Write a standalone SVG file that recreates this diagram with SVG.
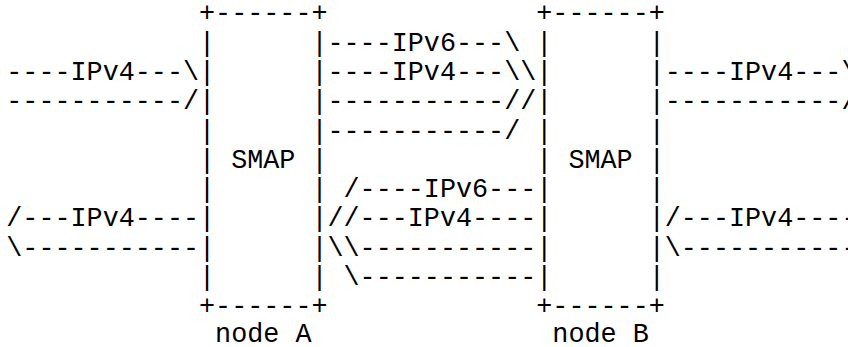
<svg xmlns="http://www.w3.org/2000/svg" width="848" height="347" viewBox="0 0 848 347">
<style>
.t{font-family:"Liberation Mono","Courier New",monospace;font-size:26.77px;fill:#000}
</style>
<rect width="848" height="347" fill="#fff"/>
<g id="nodeA" class="t">
<text x="199.02" y="21.3">+------+</text>
<text x="199.02" y="50.6">|</text><text x="311.44" y="50.6">|</text>
<text x="199.02" y="79.9">|</text><text x="311.44" y="79.9">|</text>
<text x="199.02" y="109.2">|</text><text x="311.44" y="109.2">|</text>
<text x="199.02" y="138.5">|</text><text x="311.44" y="138.5">|</text>
<text x="199.02" y="167.8">|</text><text x="231.14" y="167.8">SMAP</text><text x="311.44" y="167.8">|</text>
<text x="199.02" y="197.1">|</text><text x="311.44" y="197.1">|</text>
<text x="199.02" y="226.4">|</text><text x="311.44" y="226.4">|</text>
<text x="199.02" y="255.7">|</text><text x="311.44" y="255.7">|</text>
<text x="199.02" y="285.0">|</text><text x="311.44" y="285.0">|</text>
<text x="199.02" y="314.3">+------+</text>
<text x="215.08" y="341.5">node A</text>
</g>
<g id="nodeB" class="t">
<text x="536.28" y="21.3">+------+</text>
<text x="536.28" y="50.6">|</text><text x="648.7" y="50.6">|</text>
<text x="536.28" y="79.9">|</text><text x="648.7" y="79.9">|</text>
<text x="536.28" y="109.2">|</text><text x="648.7" y="109.2">|</text>
<text x="536.28" y="138.5">|</text><text x="648.7" y="138.5">|</text>
<text x="536.28" y="167.8">|</text><text x="568.4" y="167.8">SMAP</text><text x="648.7" y="167.8">|</text>
<text x="536.28" y="197.1">|</text><text x="648.7" y="197.1">|</text>
<text x="536.28" y="226.4">|</text><text x="648.7" y="226.4">|</text>
<text x="536.28" y="255.7">|</text><text x="648.7" y="255.7">|</text>
<text x="536.28" y="285.0">|</text><text x="648.7" y="285.0">|</text>
<text x="536.28" y="314.3">+------+</text>
<text x="552.34" y="341.5">node B</text>
</g>
<g id="connectors" class="t">
<text x="327.5" y="50.6">----IPv6---\</text>
<text x="6.3" y="79.9">----IPv4---\</text>
<text x="327.5" y="79.9">----IPv4---\\</text>
<text x="664.76" y="79.9">----IPv4---\</text>
<text x="6.3" y="109.2">-----------/</text>
<text x="327.5" y="109.2">-----------//</text>
<text x="664.76" y="109.2">-----------/</text>
<text x="327.5" y="138.5">-----------/</text>
<text x="343.56" y="197.1">/----IPv6---</text>
<text x="6.3" y="226.4">/---IPv4----</text>
<text x="327.5" y="226.4">//---IPv4----</text>
<text x="664.76" y="226.4">/---IPv4----</text>
<text x="6.3" y="255.7">\-----------</text>
<text x="327.5" y="255.7">\\-----------</text>
<text x="664.76" y="255.7">\-----------</text>
<text x="343.56" y="285.0">\-----------</text>
</g>
</svg>
